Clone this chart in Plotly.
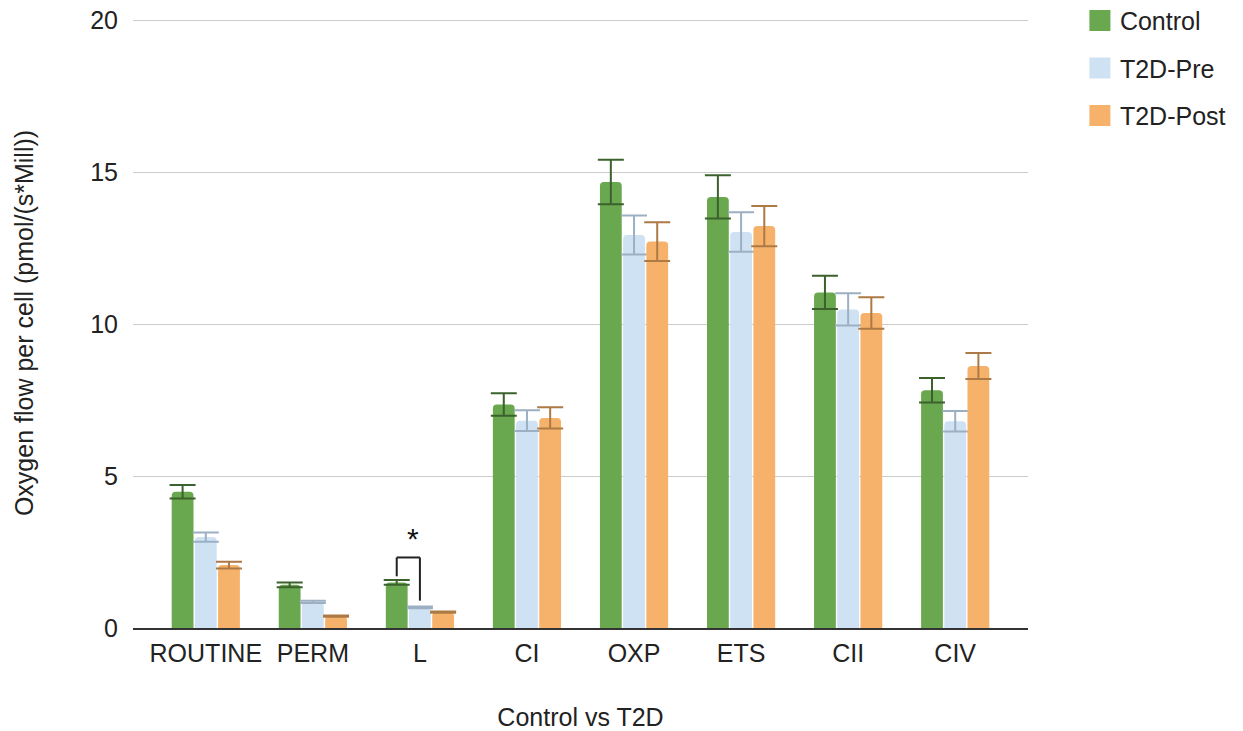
import plotly.graph_objects as go

categories = ["ROUTINE", "PERM", "L", "CI", "OXP", "ETS", "CII", "CIV"]
series_names = ["Control", "T2D-Pre", "T2D-Post"]
control = [4.48, 1.42, 1.50, 7.35, 14.67, 14.18, 11.04, 7.82]
control_err = [0.22, 0.08, 0.08, 0.37, 0.73, 0.71, 0.55, 0.40]
t2d_pre = [2.99, 0.86, 0.68, 6.82, 12.93, 13.03, 10.48, 6.80]
t2d_pre_err = [0.15, 0.04, 0.03, 0.34, 0.64, 0.65, 0.53, 0.34]
t2d_post = [2.07, 0.39, 0.52, 6.91, 12.71, 13.22, 10.36, 8.62]
t2d_post_err = [0.11, 0.02, 0.02, 0.35, 0.64, 0.66, 0.52, 0.43]

y_ticks = [0, 5, 10, 15, 20]
y_max = 20.066  # tiny headroom so the 20 gridline is drawn

# significance bracket (L: Control vs T2D-Pre)
sig_category_index = 2
sig_bracket_top = 2.32
sig_left_bottom = 1.70
sig_right_bottom = 0.90
sig_label = "*"
sig_label_y = 2.95

colors = ["#6aa84f", "#cfe2f3", "#f6b26b"]
err_colors = ["#3b612c", "#9dafc3", "#ad7a45"]
values = [control, t2d_pre, t2d_post]
errors = [control_err, t2d_pre_err, t2d_post_err]

FONT = "Liberation Sans, Arial, Helvetica, sans-serif"
BARGAP = 0.35
BARGROUPGAP = 0.06

fig = go.Figure()
for i, name in enumerate(series_names):
    fig.add_trace(go.Bar(
        x=categories, y=values[i], name=name,
        marker=dict(color=colors[i], line=dict(width=0)),
        error_y=dict(type="data", array=errors[i], visible=True,
                     color=err_colors[i], thickness=2, width=13),
        showlegend=False, hoverinfo="x+y",
    ))
    # legend entries with larger square swatches
    fig.add_trace(go.Scatter(
        x=[None], y=[None], mode="markers", name=name,
        legendgroup=name,
        marker=dict(symbol="square", size=16, color=colors[i],
                    line=dict(color=colors[i], width=5)),
        showlegend=True,
    ))

slot = (1 - BARGAP) / 3
green_x = sig_category_index - slot
blue_x = sig_category_index
line_style = dict(color="#222222", width=2)
fig.add_shape(type="line", xref="x", yref="y", x0=green_x, x1=green_x,
              y0=sig_left_bottom, y1=sig_bracket_top, line=line_style)
fig.add_shape(type="line", xref="x", yref="y", x0=green_x, x1=blue_x,
              y0=sig_bracket_top, y1=sig_bracket_top, line=line_style)
fig.add_shape(type="line", xref="x", yref="y", x0=blue_x, x1=blue_x,
              y0=sig_right_bottom, y1=sig_bracket_top, line=line_style)
fig.add_annotation(x=(green_x + blue_x) / 2 + 0.04, y=sig_label_y, xref="x", yref="y",
                   text=sig_label, showarrow=False,
                   font=dict(family=FONT, size=30, color="#111111"))

fig.update_layout(
    width=1243, height=731,
    paper_bgcolor="white", plot_bgcolor="white",
    margin=dict(l=133, r=215, t=18, b=103, autoexpand=False),
    barmode="group", bargap=BARGAP, bargroupgap=BARGROUPGAP,
    barcornerradius=4,
    font=dict(family=FONT, size=25, color="#222222"),
    legend=dict(x=1.058, y=1.033, xanchor="left", yanchor="top",
                itemsizing="trace", tracegroupgap=12,
                font=dict(family=FONT, size=25, color="#222222"),
                bgcolor="rgba(0,0,0,0)"),
    xaxis=dict(
        type="category", range=[-0.68, 7.68], automargin=False,
        showline=True, linecolor="#333333", linewidth=2,
        showgrid=False, ticks="", ticklabelstandoff=2,
        tickfont=dict(family=FONT, size=25, color="#222222"),
        title=dict(text="Control vs T2D", standoff=42,
                   font=dict(family=FONT, size=25, color="#222222")),
    ),
    yaxis=dict(
        range=[0, y_max], tickvals=y_ticks, ticktext=[str(v) for v in y_ticks],
        automargin=False, ticklabeloverflow="allow",
        showgrid=True, gridcolor="#cccccc", gridwidth=1,
        zeroline=False, showline=False, ticks="", ticklabelstandoff=14,
        tickfont=dict(family=FONT, size=25, color="#222222"),
        title=dict(text="Oxygen flow per cell (pmol/(s*Mill))", standoff=49,
                   font=dict(family=FONT, size=25, color="#222222")),
    ),
)

fig.write_html("out.html", config={"displayModeBar": False},
               post_script="document.body.style.margin='0';")
